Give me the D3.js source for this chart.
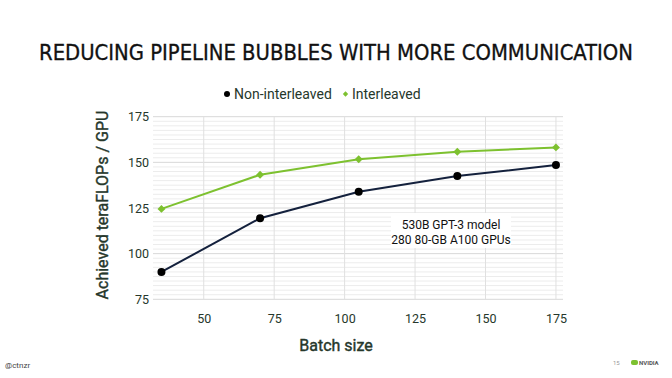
<!DOCTYPE html>
<html>
<head>
<meta charset="utf-8">
<script src="https://cdn.jsdelivr.net/npm/d3@7"></script>
<style>
  body { margin: 0; background: #fff; }
  svg { display: block; }
</style>
</head>
<body>
<svg id="chart" width="672" height="378"></svg>
<script>
// Data
const batchSizes = [35, 70, 105, 140, 175];
const nonInterleaved = [90, 119.4, 133.9, 142.5, 148.5];
const interleaved = [124.5, 143.2, 151.7, 155.8, 158.2];
const xTicks = [50, 75, 100, 125, 150, 175];
const yTicks = [75, 100, 125, 150, 175];

const svg = d3.select("#chart");
const TEXT = "#26372b";
const DARK = "#14213d";
const GREEN = "#7dc12f";

// plot area
const x = d3.scaleLinear().domain([32, 177.5]).range([153, 563]);
const y = d3.scaleLinear().domain([75, 175]).range([299.3, 116.7]);

// title
svg.append("text")
  .attr("x", 336).attr("y", 60)
  .attr("text-anchor", "middle")
  .attr("textLength", 594).attr("lengthAdjust", "spacingAndGlyphs")
  .style("font-family", "'DejaVu Sans Condensed', 'DejaVu Sans'")
  .style("font-size", "21px")
  .style("fill", "#111")
  .style("stroke", "#111").style("stroke-width", 0.3)
  .text("REDUCING PIPELINE BUBBLES WITH MORE COMMUNICATION");

// minor horizontal grid
const minor = d3.range(75, 175.01, 2.5).filter(v => v % 25 !== 0);
svg.append("g").selectAll("line").data(minor).join("line")
  .attr("x1", 153).attr("x2", 563)
  .attr("y1", d => y(d)).attr("y2", d => y(d))
  .attr("stroke", "#ececec").attr("stroke-width", 1);

// major grid
svg.append("g").selectAll("line").data(yTicks).join("line")
  .attr("x1", 153).attr("x2", 563)
  .attr("y1", d => y(d)).attr("y2", d => y(d))
  .attr("stroke", "#d8d8d8").attr("stroke-width", 1);
svg.append("g").selectAll("line").data(xTicks).join("line")
  .attr("x1", d => x(d)).attr("x2", d => x(d))
  .attr("y1", y(175)).attr("y2", y(75))
  .attr("stroke", "#e0e0e0").attr("stroke-width", 1);

// axes (labels only)
const xAxis = svg.append("g")
  .attr("transform", `translate(0,${y(75)})`)
  .call(d3.axisBottom(x).tickValues(xTicks).tickSize(0).tickPadding(12));
const yAxis = svg.append("g")
  .attr("transform", "translate(153,0)")
  .call(d3.axisLeft(y).tickValues(yTicks).tickSize(0).tickPadding(4));
[xAxis, yAxis].forEach(g => {
  g.select(".domain").remove();
  g.selectAll("text")
    .style("font-family", "Roboto, sans-serif")
    .style("font-size", "12.5px")
    .style("fill", TEXT);
});
xAxis.selectAll("text").attr("dy", "0.9em");

// axis titles
svg.append("text")
  .attr("transform", "translate(108,205) rotate(-90)")
  .attr("text-anchor", "middle")
  .style("font-family", "Roboto, sans-serif")
  .style("font-size", "16px")
  .style("fill", TEXT)
  .style("stroke", TEXT).style("stroke-width", 0.4)
  .text("Achieved teraFLOPs / GPU");
svg.append("text")
  .attr("x", 336).attr("y", 351)
  .attr("text-anchor", "middle")
  .style("font-family", "Roboto, sans-serif")
  .style("font-size", "16px")
  .style("fill", TEXT)
  .style("stroke", TEXT).style("stroke-width", 0.4)
  .text("Batch size");

// lines
const line = d3.line().x((d, i) => x(batchSizes[i])).y(d => y(d));
svg.append("path").datum(interleaved)
  .attr("d", line).attr("fill", "none")
  .attr("stroke", GREEN).attr("stroke-width", 2);
svg.append("path").datum(nonInterleaved)
  .attr("d", line).attr("fill", "none")
  .attr("stroke", DARK).attr("stroke-width", 2);

// markers
const diamond = d3.symbol().type(d3.symbolDiamond2).size(40);
svg.append("g").selectAll("path").data(interleaved).join("path")
  .attr("d", diamond)
  .attr("transform", (d, i) => `translate(${x(batchSizes[i])},${y(d)})`)
  .attr("fill", GREEN);
svg.append("g").selectAll("circle").data(nonInterleaved).join("circle")
  .attr("cx", (d, i) => x(batchSizes[i])).attr("cy", d => y(d))
  .attr("r", 4).attr("fill", "#000");

// legend
svg.append("circle").attr("cx", 227).attr("cy", 94).attr("r", 3).attr("fill", "#000");
svg.append("text").attr("x", 234).attr("y", 99)
  .style("font-family", "Roboto, sans-serif").style("font-size", "14px")
  .style("fill", TEXT).text("Non-interleaved");
svg.append("path").attr("d", d3.symbol().type(d3.symbolDiamond2).size(18))
  .attr("transform", "translate(345.5,94)").attr("fill", GREEN);
svg.append("text").attr("x", 352).attr("y", 99)
  .style("font-family", "Roboto, sans-serif").style("font-size", "14px")
  .style("fill", TEXT).text("Interleaved");

// annotation
svg.append("rect").attr("x", 391).attr("y", 213).attr("width", 120).attr("height", 35)
  .attr("fill", "#fff");
svg.append("text").attr("x", 451).attr("text-anchor", "middle")
  .style("font-family", "Roboto, sans-serif").style("font-size", "12px").style("fill", "#111")
  .selectAll("tspan").data(["530B GPT-3 model", "280 80-GB A100 GPUs"]).join("tspan")
  .attr("x", 451).attr("y", (d, i) => 229 + i * 15).text(d => d);

// footer
svg.append("text").attr("x", 5).attr("y", 368)
  .style("font-family", "Roboto, sans-serif").style("font-size", "8px").style("fill", "#444")
  .text("@ctnzr");
svg.append("text").attr("x", 613).attr("y", 365)
  .style("font-family", "Roboto, sans-serif").style("font-size", "6px").style("fill", "#999")
  .text("15");
svg.append("rect").attr("x", 631).attr("y", 360).attr("width", 7).attr("height", 5)
  .attr("rx", 2).attr("fill", GREEN);
svg.append("text").attr("x", 639).attr("y", 365)
  .style("font-family", "Roboto, sans-serif").style("font-size", "6px").style("font-weight", 700)
  .style("fill", "#555").text("NVIDIA");
</script>
</body>
</html>
